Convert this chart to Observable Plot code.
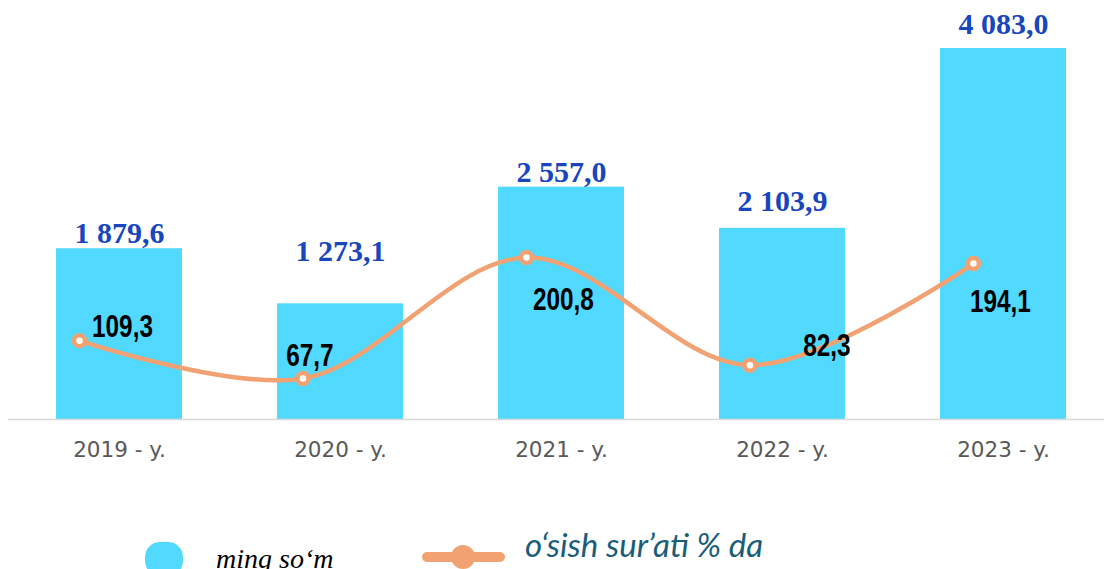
<!DOCTYPE html>
<html>
<head>
<meta charset="utf-8">
<script src="https://cdn.jsdelivr.net/npm/d3@7"></script>
<script src="https://cdn.jsdelivr.net/npm/@observablehq/plot@0.6"></script>
<style>
  html, body { margin: 0; padding: 0; background: #fff; overflow: hidden; }
  #wrap { position: relative; width: 1104px; height: 569px; }
  #legend { position: relative; width: 1104px; height: 89px; }
  .sw-bar { position: absolute; left: 145px; top: 62px; width: 38px; height: 34px; border-radius: 15px; background: #52D9FF; }
  .lab-bar { position: absolute; left: 216px; top: 63px; font-family: "Liberation Serif", serif; font-style: italic; font-size: 28px; color: #000; white-space: nowrap; }
  .sw-line { position: absolute; left: 422px; top: 72px; width: 83px; height: 10px; border-radius: 5px; background: #F2A272; }
  .sw-dot { position: absolute; left: 451px; top: 65px; width: 24px; height: 24px; border-radius: 12px; background: #F2A272; }
  .lab-line { position: absolute; left: 525px; top: 44px; font-family: Lato, "Open Sans", sans-serif; font-style: italic; font-size: 33px; color: #1A5D78; white-space: nowrap; }
</style>
</head>
<body>
<div id="wrap">
  <div id="chart"></div>
  <div id="legend">
    <div class="sw-bar"></div>
    <div class="lab-bar">ming so‘m</div>
    <div class="sw-line"></div>
    <div class="sw-dot"></div>
    <div class="lab-line">o‘sish sur’ati % da</div>
  </div>
</div>
<script>
// ---- data ----
const years = ["2019 - y.", "2020 - y.", "2021 - y.", "2022 - y.", "2023 - y."];
const amounts = [1879.6, 1273.1, 2557.0, 2103.9, 4083.0];   // ming so‘m
const rates = [109.3, 67.7, 200.8, 82.3, 194.1];             // o‘sish sur’ati % da

// ---- label placement (layout only) ----
const amountLabelDy = [-15, -52, -15, -27, -24];
const rateLabelDx = [43, 7, 37, 77, 27];
const rateLabelDy = [-15, -24, 41, -20, 37];

// secondary axes for the rate series (as in the source chart)
const rateToPrimary = d3.scaleLinear().domain([22.5, 430.8]).range([0, 4083]);
const xSecondary = d3.scaleLinear().domain([0, 4]).range([-0.181, 3.864]);

const fmt = d3.formatLocale({decimal: ",", thousands: " ", grouping: [3]}).format(",.1f");

const table = years.map((y, i) => ({i, year: y, amount: amounts[i], rate: rates[i]}));

const BAR = "#52D9FF", LINE = "#F2A272";
const half = 0.285;
const NARROW = 0.76;

const chart = Plot.plot({
  width: 1104,
  height: 480,
  marginTop: 48,
  marginBottom: 61,
  marginLeft: 8,
  marginRight: 0,
  x: {type: "linear", domain: [0, 4], range: [119, 1003]},
  y: {domain: [0, 4083], axis: null},
  style: {background: "#fff", overflow: "visible"},
  marks: [
    Plot.rectY(table, {x1: d => d.i - half, x2: d => d.i + half, y: "amount", fill: BAR}),
    Plot.ruleY([0], {stroke: "#D9D9D9", strokeWidth: 1.5}),
    Plot.axisX({ticks: [0, 1, 2, 3, 4], tickFormat: i => years[i], tickSize: 0, tickPadding: 22,
      fontSize: 21.5, fontFamily: "DejaVu Sans", fill: "#595959", label: null}),
    Plot.text(table, {x: "i", y: "amount", text: d => fmt(d.amount),
      fill: "#1746BE", fontSize: 30, fontWeight: "bold", fontFamily: "Liberation Serif",
      render: (index, scales, values, dims, ctx, next) => {
        const g = next(index, scales, values, dims, ctx);
        d3.select(g).selectAll("text").attr("dy", (_, j) => amountLabelDy[index[j]]);
        return g;
      }}),
    Plot.line(table, {x: d => xSecondary(d.i), y: d => rateToPrimary(d.rate), curve: "catmull-rom",
      stroke: LINE, strokeWidth: 4.5}),
    Plot.dot(table, {x: d => xSecondary(d.i), y: d => rateToPrimary(d.rate), r: 5.5,
      fill: "#fff", stroke: LINE, strokeWidth: 4.5}),
    Plot.text(table, {x: d => xSecondary(d.i), y: d => rateToPrimary(d.rate), text: d => fmt(d.rate),
      fill: "#000", fontSize: 32, fontWeight: "bold", fontFamily: "Liberation Sans, Arial, sans-serif",
      render: (index, scales, values, dims, ctx, next) => {
        const g = next(index, scales, values, dims, ctx);
        d3.select(g).selectAll("text").each(function(_, j) {
          const k = index[j];
          const px = values.x[k] + rateLabelDx[k];
          const py = values.y[k] + rateLabelDy[k];
          d3.select(this)
            .attr("x", null).attr("y", null).attr("dx", null).attr("dy", "0.35em")
            .attr("transform", `translate(${px},${py}) scale(${NARROW},1)`);
        });
        return g;
      }})
  ]
});
document.getElementById("chart").appendChild(chart);
</script>
</body>
</html>
